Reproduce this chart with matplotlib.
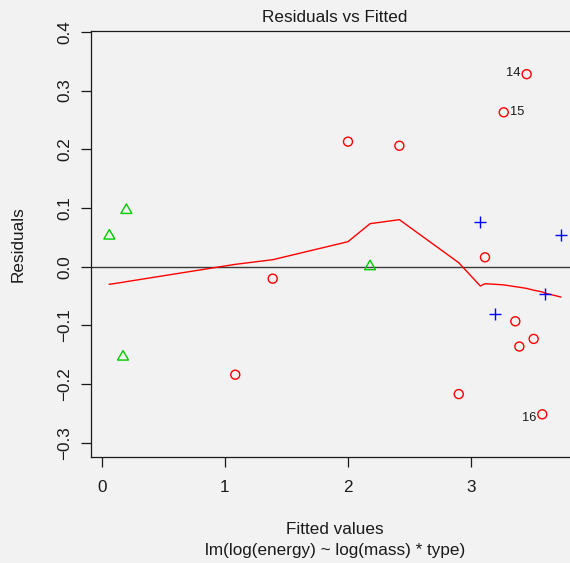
import matplotlib
matplotlib.use("Agg")
import matplotlib.pyplot as plt
from matplotlib.path import Path

plt.rcParams['font.family'] = ['Liberation Sans', 'DejaVu Sans']

# Data (fitted, residual) by group
red_x = [1.388, 1.084, 1.999, 2.416, 3.449, 3.263, 3.111, 3.357, 3.506, 3.390, 2.898, 3.576]
red_y = [-0.0204, -0.184, 0.213, 0.206, 0.328, 0.263, 0.016, -0.093, -0.123, -0.136, -0.217, -0.2515]
blue_x = [3.073, 3.726, 3.192, 3.598]
blue_y = [0.0756, 0.0535, -0.081, -0.047]
green_x = [0.062, 0.200, 0.173, 2.178]
green_y = [0.0552, 0.0988, -0.151, 0.003]

# Smoother (lowess) read at sorted fitted values
smooth_x = [0.062, 0.173, 0.200, 1.084, 1.388, 1.999, 2.178, 2.416, 2.898, 3.073,
            3.111, 3.192, 3.263, 3.357, 3.390, 3.449, 3.506, 3.576, 3.598, 3.726]
smooth_y = [-0.030, -0.0265, -0.0255, 0.004, 0.0119, 0.0426, 0.0733, 0.0801, 0.0068, -0.0329,
            -0.029, -0.030, -0.031, -0.034, -0.035, -0.037, -0.040, -0.043, -0.045, -0.0516]

# Labelled points
id_labels = ["14", "15", "16"]
id_x = [3.449, 3.263, 3.576]
id_y = [0.328, 0.263, -0.2515]
id_side = ["left", "right", "left"]

x_ticks = [0, 1, 2, 3]
y_ticks = [-0.3, -0.2, -0.1, 0.0, 0.1, 0.2, 0.3, 0.4]

W, H = 570, 563
bg = '#F2F2F2'
txt = '#1a1a1a'
fs = 12.3
fig = plt.figure(figsize=(W / 100, H / 100), dpi=100, facecolor=bg)
ax = fig.add_axes([91 / W, (H - 457.3) / H, (579 - 91) / W, (457.3 - 31.3) / H], facecolor=bg)

ax.set_xlim(-0.0869, 3.874)
ax.set_ylim(-0.3247, 0.4010)

ax.axhline(0, color='#3a3a3a', lw=1.0, zorder=1)
ax.plot(smooth_x, smooth_y, color='#FF0000', lw=1.0, zorder=2)

tri = Path([(-1.0, -0.866), (1.0, -0.866), (0.0, 0.866), (-1.0, -0.866)],
           [Path.MOVETO, Path.LINETO, Path.LINETO, Path.CLOSEPOLY])

ax.scatter(red_x, red_y, marker='o', s=42, facecolors='none', edgecolors='#FF0000', linewidths=1.0, zorder=3)
ax.scatter(blue_x, blue_y, marker='+', s=75, color='#0000FF', linewidths=1.0, zorder=3)
ax.scatter(green_x, green_y, marker=tri, s=62, facecolors='none', edgecolors='#00CD00', linewidths=1.0, zorder=3)

for lab, x, y, side in zip(id_labels, id_x, id_y, id_side):
    dx = -4.2 if side == 'left' else 4.2
    dy = -2.5 if lab == "16" else 0.5
    ax.annotate(lab, (x, y), xytext=(dx, dy), textcoords='offset points',
                ha='right' if side == 'left' else 'left', va='center', fontsize=9.3, color=txt)

ax.set_xticks(x_ticks)
ax.set_xticklabels([str(t) for t in x_ticks])
ax.set_yticks(y_ticks)
ax.set_yticklabels([f"{t:.1f}".replace('-', '\u2212') for t in y_ticks], rotation=90, va='center')

ax.tick_params(axis='both', direction='out', length=7.2, width=0.9, labelsize=fs, colors=txt)
ax.tick_params(axis='x', pad=9)
ax.tick_params(axis='y', pad=6.5)

for s in ['left', 'bottom', 'top', 'right']:
    ax.spines[s].set_linewidth(0.9)
    ax.spines[s].set_color(txt)

fig.text(335 / W, 1 - 17 / H, "Residuals vs Fitted", ha='center', va='center', fontsize=fs, color=txt)
fig.text(335 / W, 1 - 529 / H, "Fitted values", ha='center', va='center', fontsize=fs, color=txt)
fig.text(335 / W, 1 - 551 / H, "lm(log(energy) ~ log(mass) * type)", ha='center', va='center', fontsize=fs, color=txt)
fig.text(18 / W, 1 - 244 / H, "Residuals", ha='center', va='center', rotation=90, fontsize=fs, color=txt)

fig.savefig("out.png", dpi=100, facecolor=bg)
